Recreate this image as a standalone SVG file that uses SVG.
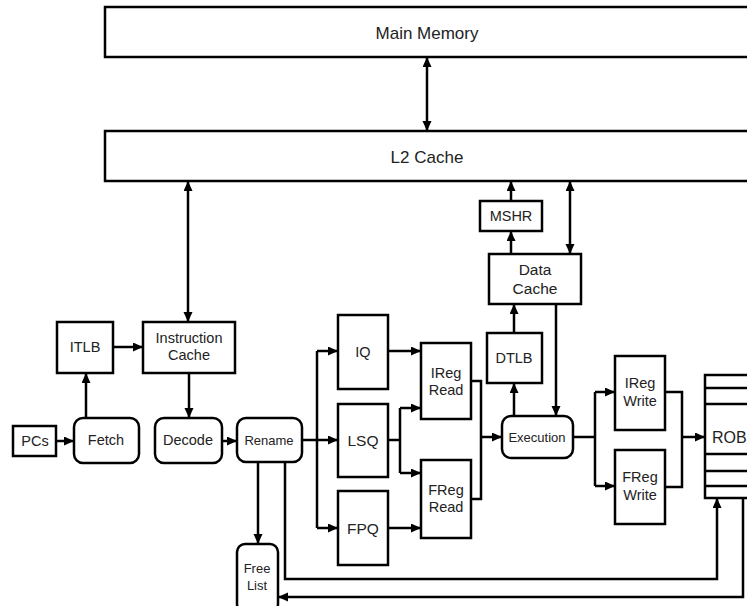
<svg xmlns="http://www.w3.org/2000/svg" width="747" height="606" viewBox="0 0 747 606">
<style>
.b{fill:#fff;stroke:#000;stroke-width:2.5}
.c{fill:none;stroke:#000;stroke-width:2.5}
text{font-family:"Liberation Sans",Arial,sans-serif;font-size:14.5px;fill:#222;text-anchor:middle;dominant-baseline:central}
.s{font-size:13px}
.l{font-size:17px}
</style>
<defs>
<marker id="a" markerUnits="userSpaceOnUse" markerWidth="11" markerHeight="10" refX="10" refY="4.5" orient="auto-start-reverse" viewBox="0 0 11 10">
<path d="M0,0 L10,4.5 L0,9 z" fill="#000"/>
</marker>
</defs>
<g id="main-memory"><rect class="b" x="105" y="7" width="645" height="50"/><text class="l" x="427" y="33">Main Memory</text></g>
<g id="l2-cache"><rect class="b" x="105" y="131" width="645" height="50"/><text class="l" x="427" y="157">L2 Cache</text></g>
<g id="mshr"><rect class="b" x="480" y="201" width="62" height="30"/><text x="511" y="216">MSHR</text></g>
<g id="data-cache"><rect class="b" x="489" y="254" width="92" height="50"/><text x="535" y="269" style="font-size:15.5px">Data</text><text x="535" y="288" style="font-size:15.5px">Cache</text></g>
<g id="dtlb"><rect class="b" x="487" y="333" width="55" height="50"/><text x="514" y="358">DTLB</text></g>
<g id="execution"><rect class="b" x="502" y="416" width="71" height="42" rx="9"/><text class="s" x="537" y="437">Execution</text></g>
<g id="itlb"><rect class="b" x="57" y="322" width="56" height="51"/><text x="85" y="347">ITLB</text></g>
<g id="instruction-cache"><rect class="b" x="143" y="322" width="92" height="51"/><text x="189" y="338">Instruction</text><text x="189" y="355">Cache</text></g>
<g id="pcs"><rect class="b" x="13" y="426" width="43" height="30"/><text x="35" y="441">PCs</text></g>
<g id="fetch"><rect class="b" x="74" y="418" width="65" height="45" rx="9"/><text x="106" y="440">Fetch</text></g>
<g id="decode"><rect class="b" x="155" y="418" width="67" height="45" rx="9"/><text x="188" y="440">Decode</text></g>
<g id="rename"><rect class="b" x="237" y="418" width="65" height="44" rx="9"/><text class="s" x="269" y="440">Rename</text></g>
<g id="iq"><rect class="b" x="338" y="315" width="50" height="74"/><text x="363" y="352">IQ</text></g>
<g id="lsq"><rect class="b" x="338" y="404" width="50" height="73"/><text x="363" y="440" style="font-size:15.5px">LSQ</text></g>
<g id="fpq"><rect class="b" x="338" y="491" width="50" height="74"/><text x="363" y="528" style="font-size:15.5px">FPQ</text></g>
<g id="ireg-read"><rect class="b" x="421" y="343" width="50" height="76"/><text x="446" y="373">IReg</text><text x="446" y="390">Read</text></g>
<g id="freg-read"><rect class="b" x="421" y="460" width="50" height="78"/><text x="446" y="490">FReg</text><text x="446" y="507">Read</text></g>
<g id="ireg-write"><rect class="b" x="615" y="356" width="50" height="74"/><text x="640" y="383">IReg</text><text x="640" y="401">Write</text></g>
<g id="freg-write"><rect class="b" x="615" y="450" width="50" height="74"/><text x="640" y="477">FReg</text><text x="640" y="495">Write</text></g>
<g id="rob"><rect class="b" x="705" y="375" width="50" height="123"/><path class="c" d="M705,388 H750 M705,404 H750 M705,454 H750 M705,471 H750 M705,486 H750"/><text x="712" y="437" style="font-size:16px;text-anchor:start">ROB</text></g>
<g id="free-list"><rect class="b" x="237" y="544" width="41" height="68" rx="8"/><text class="s" x="257" y="568">Free</text><text class="s" x="257" y="585">List</text></g>
<g id="connectors">
<path class="c" d="M427,57 V131" marker-start="url(#a)" marker-end="url(#a)"/>
<path class="c" d="M188,181 V322" marker-start="url(#a)" marker-end="url(#a)"/>
<path class="c" d="M511,201 V181" marker-end="url(#a)"/>
<path class="c" d="M570,181 V254" marker-start="url(#a)" marker-end="url(#a)"/>
<path class="c" d="M511,254 V231" marker-end="url(#a)"/>
<path class="c" d="M514,333 V304" marker-end="url(#a)"/>
<path class="c" d="M556,304 V416" marker-end="url(#a)"/>
<path class="c" d="M514,416 V383" marker-end="url(#a)"/>
<path class="c" d="M113,347 H143" marker-end="url(#a)"/>
<path class="c" d="M86,418 V373" marker-end="url(#a)"/>
<path class="c" d="M56,441 H74" marker-end="url(#a)"/>
<path class="c" d="M189,373 V418" marker-end="url(#a)"/>
<path class="c" d="M222,441 H237" marker-end="url(#a)"/>
<path class="c" d="M302,440 H338" marker-end="url(#a)"/>
<path class="c" d="M317,351 V528"/>
<path class="c" d="M317,351 H338" marker-end="url(#a)"/>
<path class="c" d="M317,528 H338" marker-end="url(#a)"/>
<path class="c" d="M388,351 H421" marker-end="url(#a)"/>
<path class="c" d="M388,440 H400"/>
<path class="c" d="M400,408 V473"/>
<path class="c" d="M400,408 H421" marker-end="url(#a)"/>
<path class="c" d="M400,473 H421" marker-end="url(#a)"/>
<path class="c" d="M388,528 H421" marker-end="url(#a)"/>
<path class="c" d="M471,381 H481 V499 H471"/>
<path class="c" d="M481,437 H502" marker-end="url(#a)"/>
<path class="c" d="M573,437 H595"/>
<path class="c" d="M595,392 V486"/>
<path class="c" d="M595,392 H615" marker-end="url(#a)"/>
<path class="c" d="M595,486 H615" marker-end="url(#a)"/>
<path class="c" d="M665,392 H682 V487 H665"/>
<path class="c" d="M682,437 H705" marker-end="url(#a)"/>
<path class="c" d="M285,462 V579 H717 V498" marker-end="url(#a)"/>
<path class="c" d="M258,462 V544" marker-end="url(#a)"/>
<path class="c" d="M743,498 V597 H278" marker-end="url(#a)"/>
</g>
</svg>
